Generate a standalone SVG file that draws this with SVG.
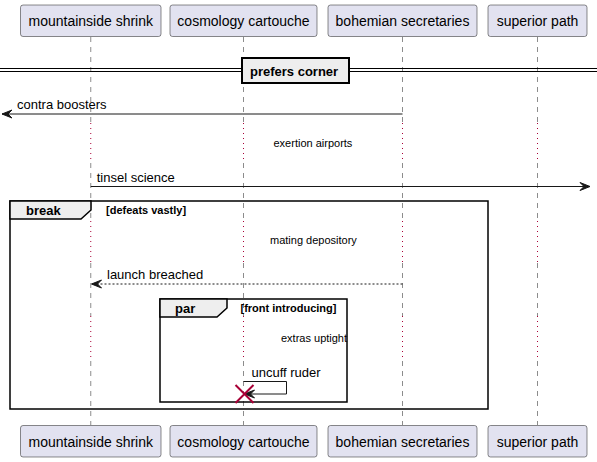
<svg xmlns="http://www.w3.org/2000/svg" width="597" height="462" viewBox="0 0 597 462">
<style>
.box{fill:#E2E2F0;stroke:#181818;stroke-width:0.5}
.pt{font-family:"Liberation Sans",Arial,sans-serif;font-size:14px;fill:#000;text-anchor:middle}
.life{stroke:#181818;stroke-width:0.5;stroke-dasharray:5,5;fill:none}
.delay{stroke:#A80036;stroke-width:1;stroke-dasharray:1,4;fill:none}
.msg{stroke:#181818;stroke-width:1;fill:none}
.dash{stroke:#181818;stroke-width:1;fill:none;stroke-dasharray:2,2}
.head{fill:#181818;stroke:#181818;stroke-width:1}
.mt{font-family:"Liberation Sans",Arial,sans-serif;font-size:13px;fill:#000}
.dt{font-family:"Liberation Sans",Arial,sans-serif;font-size:11px;fill:#000}
.frame{fill:none;stroke:#000;stroke-width:1.5}
.tab{fill:#EEEEEE;stroke:#000;stroke-width:1.5}
.ft{font-family:"Liberation Sans",Arial,sans-serif;font-size:13px;font-weight:bold;fill:#000}
.ct{font-family:"Liberation Sans",Arial,sans-serif;font-size:11px;font-weight:bold;fill:#000}
</style>
<g id="lifelines">
<path class="life" d="M90.75,37 V123 M90.75,163 V221 M90.75,263 V316 M90.75,361 V425"/>
<path class="life" d="M243.5,37 V123 M243.5,163 V221 M243.5,263 V316 M243.5,361 V425"/>
<path class="life" d="M402.5,37 V123 M402.5,163 V221 M402.5,263 V316 M402.5,361 V425"/>
<path class="life" d="M537.5,37 V123 M537.5,163 V221 M537.5,263 V316 M537.5,361 V425"/>
<path class="delay" d="M90.75,123 V163 M243.5,123 V163 M402.5,123 V163 M537.5,123 V163"/>
<path class="delay" d="M90.75,221 V263 M243.5,221 V263 M402.5,221 V263 M537.5,221 V263"/>
<path class="delay" d="M90.75,316 V361 M243.5,316 V361 M402.5,316 V361 M537.5,316 V361"/>
</g>
<g id="p1">
<rect class="box" x="20.5" y="5" width="140.5" height="31.5" rx="2.5"/>
<text class="pt" x="90.75" y="26">mountainside shrink</text>
<rect class="box" x="20.5" y="425.5" width="140.5" height="31.5" rx="2.5"/>
<text class="pt" x="90.75" y="446.5">mountainside shrink</text>
</g>
<g id="p2">
<rect class="box" x="170" y="5" width="147" height="31.5" rx="2.5"/>
<text class="pt" x="243.5" y="26">cosmology cartouche</text>
<rect class="box" x="170" y="425.5" width="147" height="31.5" rx="2.5"/>
<text class="pt" x="243.5" y="446.5">cosmology cartouche</text>
</g>
<g id="p3">
<rect class="box" x="328" y="5" width="149" height="31.5" rx="2.5"/>
<text class="pt" x="402.5" y="26">bohemian secretaries</text>
<rect class="box" x="328" y="425.5" width="149" height="31.5" rx="2.5"/>
<text class="pt" x="402.5" y="446.5">bohemian secretaries</text>
</g>
<g id="p4">
<rect class="box" x="488" y="5" width="99" height="31.5" rx="2.5"/>
<text class="pt" x="537.5" y="26">superior path</text>
<rect class="box" x="488" y="425.5" width="99" height="31.5" rx="2.5"/>
<text class="pt" x="537.5" y="446.5">superior path</text>
</g>
<g id="divider">
<line x1="0" y1="68.5" x2="597" y2="68.5" stroke="#000" stroke-width="1"/>
<line x1="0" y1="71.5" x2="597" y2="71.5" stroke="#000" stroke-width="1"/>
<rect x="242" y="58" width="107" height="25" fill="#EEEEEE" stroke="#000" stroke-width="2"/>
<text class="ft" x="250" y="75.5">prefers corner</text>
</g>
<g id="break-frame">
<rect class="frame" x="10" y="201" width="478" height="208"/>
<path class="tab" d="M10,201 H91 V210 L81,219 H10 Z"/>
<text class="ft" x="26" y="215">break</text>
<text class="ct" x="106" y="214">[defeats vastly]</text>
</g>
<g id="par-frame">
<rect class="frame" x="160" y="299" width="187" height="103"/>
<path class="tab" d="M160,299 H227 V308 L217,317 H160 Z"/>
<text class="ft" x="175" y="313">par</text>
<text class="ct" x="240.5" y="311.5">[front introducing]</text>
</g>
<g id="delays">
<text class="dt" x="273.5" y="146.5">exertion airports</text>
<text class="dt" x="270" y="244">mating depository</text>
<text class="dt" x="281" y="341.5">extras uptight</text>
</g>
<g id="connectors">
<line class="msg" x1="402.5" y1="114" x2="2" y2="114"/>
<polygon class="head" points="12,110 2,114 12,118 8,114"/>
<text class="mt" x="17" y="108.5">contra boosters</text>
<line class="msg" x1="90.75" y1="186.5" x2="590" y2="186.5"/>
<polygon class="head" points="580,182.5 590,186.5 580,190.5 584,186.5"/>
<text class="mt" x="96.75" y="181.5">tinsel science</text>
<line class="dash" x1="402.5" y1="284" x2="91.5" y2="284"/>
<polygon class="head" points="101.5,280 91.5,284 101.5,288 97.5,284"/>
<text class="mt" x="107" y="278.5">launch breached</text>
<polyline class="msg" points="243.5,381.5 286.5,381.5 286.5,394 244.5,394"/>
<polygon class="head" points="254.5,390 244.5,394 254.5,398 250.5,394"/>
<text class="mt" x="251.5" y="377">uncuff ruder</text>
<path d="M235.5,385 L253.5,403 M253.5,385 L235.5,403" stroke="#A80036" stroke-width="2" fill="none"/>
</g>
</svg>
